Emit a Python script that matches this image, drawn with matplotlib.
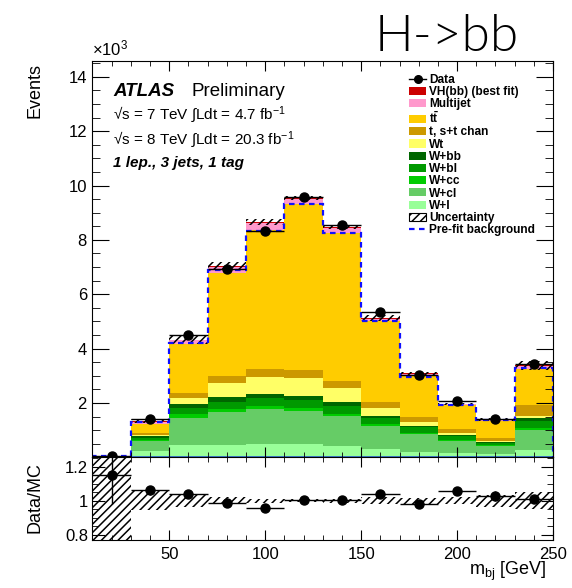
import numpy as np
import matplotlib
matplotlib.use("Agg")
import matplotlib.pyplot as plt
from matplotlib.lines import Line2D
from matplotlib.patches import Patch
from matplotlib.ticker import MultipleLocator

plt.rcParams['font.family'] = ['Liberation Sans', 'DejaVu Sans']
plt.rcParams['mathtext.fontset'] = 'custom'
plt.rcParams['mathtext.rm'] = 'Liberation Sans'
plt.rcParams['mathtext.it'] = 'Liberation Sans:italic'
plt.rcParams['mathtext.bf'] = 'Liberation Sans:bold'
plt.rcParams['hatch.linewidth'] = 1.1

# m_bj bins [GeV]
edges = np.arange(10, 251, 20)
centers = edges[:-1] + 10

# stack components, events x 10^3 per bin, bottom to top
other = [0.0, 0.04, 0.06, 0.06, 0.06, 0.06, 0.06, 0.05, 0.05, 0.04, 0.04, 0.05]
w_l = [0.005, 0.18, 0.38, 0.41, 0.43, 0.44, 0.34, 0.26, 0.15, 0.11, 0.09, 0.20]
w_cl = [0.007, 0.37, 1.01, 1.18, 1.29, 1.22, 1.11, 0.83, 0.66, 0.46, 0.29, 0.76]
w_cc = [0.002, 0.04, 0.15, 0.13, 0.10, 0.10, 0.10, 0.09, 0.05, 0.03, 0.03, 0.06]
w_bl = [0.003, 0.08, 0.22, 0.24, 0.30, 0.30, 0.27, 0.22, 0.19, 0.15, 0.09, 0.25]
w_bb = [0.002, 0.06, 0.15, 0.20, 0.16, 0.15, 0.14, 0.08, 0.06, 0.04, 0.04, 0.12]
wt = [0.001, 0.05, 0.21, 0.51, 0.62, 0.63, 0.52, 0.27, 0.12, 0.06, 0.03, 0.09]
stop = [0.002, 0.08, 0.19, 0.27, 0.29, 0.32, 0.28, 0.25, 0.19, 0.15, 0.09, 0.40]
ttbar = [0.014, 0.34, 1.81, 3.78, 5.13, 6.11, 5.44, 2.97, 1.53, 0.87, 0.64, 1.31]
multijet = [0.003, 0.07, 0.13, 0.23, 0.25, 0.18, 0.19, 0.08, 0.08, 0.05, 0.03, 0.13]
vh = [0.001, 0.01, 0.02, 0.02, 0.03, 0.03, 0.02, 0.02, 0.01, 0.01, 0.01, 0.02]

data = [0.046, 1.40, 4.49, 6.92, 8.32, 9.56, 8.53, 5.33, 3.04, 2.08, 1.42, 3.43]
prefit = [0.04, 1.31, 4.21, 6.89, 8.34, 9.32, 8.25, 5.00, 2.97, 1.93, 1.37, 3.28]
# relative MC uncertainty
rel_unc = [0.6, 0.055, 0.035, 0.02, 0.012, 0.009, 0.01, 0.02, 0.017, 0.02, 0.035, 0.05]

components = [
    (other, '#3d7fd0', None),
    (w_l, '#99ff99', 'W+l'),
    (w_cl, '#66cc66', 'W+cl'),
    (w_cc, '#00cc00', 'W+cc'),
    (w_bl, '#009900', 'W+bl'),
    (w_bb, '#006600', 'W+bb'),
    (wt, '#ffff66', 'Wt'),
    (stop, '#cc9900', 't, s+t chan'),
    (ttbar, '#ffcc00', r'$\mathbf{t\bar{t}}$'),
    (multijet, '#ff99cc', 'Multijet'),
    (vh, '#cc0000', 'VH(bb) (best fit)'),
]

fig = plt.figure(figsize=(5.72, 5.88), dpi=100)
ax = fig.add_axes([0.1617, 0.2223, 0.8051, 0.6739])
ax2 = fig.add_axes([0.1617, 0.0816, 0.8051, 0.1407])

bottom = np.zeros(len(centers))
for vals, col, lab in components:
    top = bottom + np.array(vals)
    ax.stairs(top, edges, baseline=bottom, fill=True, color=col, linewidth=0)
    bottom = top
total = bottom
unc = np.array(rel_unc)
data = np.array(data)
data_err = np.sqrt(data * 1000) / 1000

ax.stairs(total * (1 + unc), edges, baseline=np.clip(total * (1 - unc), 0, None),
          fill=True, facecolor='none', edgecolor='black', hatch='////', linewidth=0)
ax.stairs(prefit, edges, baseline=0, color='#1010ff', linestyle=(0, (2.5, 2)), linewidth=1.6)
ax.errorbar(centers, data, yerr=data_err, xerr=10, fmt='o', color='black', ms=6.5,
            elinewidth=1.0, capsize=0, zorder=5)

ax.set_xlim(10, 250)
ax.set_ylim(0, 14.58)
ax.set_yticks([2, 4, 6, 8, 10, 12, 14])
ax.yaxis.set_minor_locator(MultipleLocator(0.5))
ax.xaxis.set_major_locator(MultipleLocator(50))
ax.xaxis.set_minor_locator(MultipleLocator(10))
ax.tick_params(axis='both', which='both', direction='in', top=True, right=True, labelsize=12)
ax.tick_params(axis='y', which='major', length=12, pad=4)
ax.tick_params(axis='y', which='minor', length=6)
ax.tick_params(axis='x', which='major', length=7)
ax.tick_params(axis='x', which='minor', length=3.6)
ax.tick_params(axis='x', labelbottom=False)

# ratio panel
ax2.stairs(1 + unc, edges, baseline=1 - unc, fill=True, facecolor='none',
           edgecolor='black', hatch='////', linewidth=0)
ax2.errorbar(centers, data / total, yerr=data_err / total, xerr=10, fmt='o', color='black',
             ms=6.5, elinewidth=1.0, capsize=0, zorder=5)
ax2.set_xlim(10, 250)
ax2.set_ylim(0.771, 1.254)
ax2.set_yticks([0.8, 1.0, 1.2])
ax2.set_yticklabels(['0.8', '1', '1.2'])
ax2.yaxis.set_minor_locator(MultipleLocator(0.05))
ax2.xaxis.set_major_locator(MultipleLocator(50))
ax2.xaxis.set_minor_locator(MultipleLocator(10))
ax2.tick_params(axis='both', which='both', direction='in', top=True, right=True, labelsize=12)
ax2.tick_params(axis='y', which='major', length=9, pad=3)
ax2.tick_params(axis='y', which='minor', length=4.5)
ax2.tick_params(axis='x', which='major', length=7, pad=5)
ax2.tick_params(axis='x', which='minor', length=3.6)

# texts
fig.text(0.062, 0.893, 'Events', rotation=90, ha='center', va='top', fontsize=13)
fig.text(0.062, 0.153, 'Data/MC', rotation=90, ha='center', va='center', fontsize=13)
fig.text(0.955, 0.008, r'm$_{\mathrm{bj}}$ [GeV]', ha='right', va='bottom', fontsize=13)
fig.text(0.161, 0.9, r'$\times$10$^{3}$', ha='left', va='bottom', fontsize=12)
fig.text(0.655, 0.913, 'H->bb', ha='left', va='baseline', fontsize=37,
         family=['Lato', 'DejaVu Sans'], fontweight=300)

ax.text(0.045, 0.912, 'ATLAS', transform=ax.transAxes, fontsize=13.5,
        fontweight='bold', fontstyle='italic')
ax.text(0.215, 0.912, 'Preliminary', transform=ax.transAxes, fontsize=13.5)
ax.text(0.045, 0.853, '√s = 7 TeV ∫Ldt = 4.7 fb$^{-1}$', transform=ax.transAxes, fontsize=11)
ax.text(0.045, 0.79, '√s = 8 TeV ∫Ldt = 20.3 fb$^{-1}$', transform=ax.transAxes, fontsize=11)
ax.text(0.045, 0.732, '1 lep., 3 jets, 1 tag', transform=ax.transAxes, fontsize=11,
        fontweight='bold', fontstyle='italic')

handles = [Line2D([], [], color='black', marker='o', ms=5.5, lw=1)]
labels = ['Data']
for vals, col, lab in components[::-1]:
    if lab is None:
        continue
    handles.append(Patch(facecolor=col, edgecolor='none'))
    labels.append(lab)
handles.append(Patch(facecolor='white', edgecolor='black', hatch='////', linewidth=0.8))
labels.append('Uncertainty')
handles.append(Line2D([], [], color='#1010ff', linestyle=(0, (2.5, 2)), lw=1.6))
labels.append('Pre-fit background')
ax.legend(handles, labels, loc='upper left', bbox_to_anchor=(0.687, 0.968), frameon=False,
          prop={'size': 8.6, 'weight': 'bold'}, handlelength=1.45, handleheight=0.68,
          handletextpad=0.25, labelspacing=0.02, borderpad=0, borderaxespad=0)

fig.savefig('out.png', dpi=100)
